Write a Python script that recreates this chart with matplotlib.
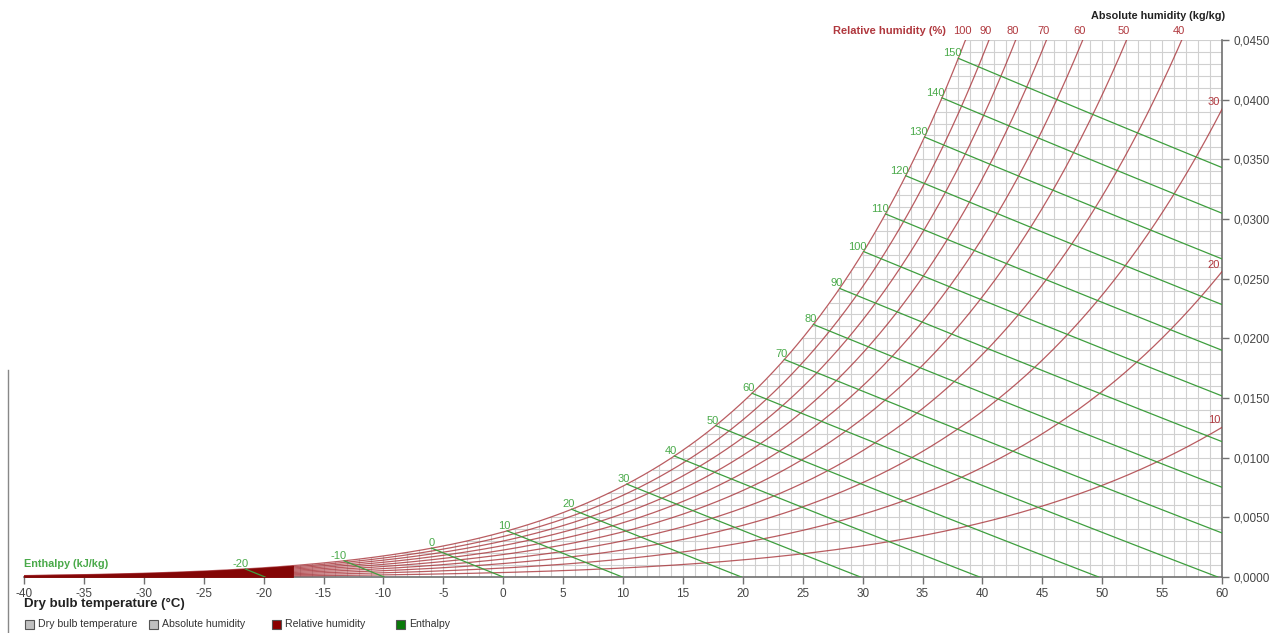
import numpy as np
import matplotlib.pyplot as plt
from matplotlib.lines import Line2D
from matplotlib.patches import Rectangle
from matplotlib.ticker import FuncFormatter

plt.rcParams['font.family'] = ['Liberation Sans', 'DejaVu Sans']
plt.rcParams['axes.unicode_minus'] = False

# chart values
rh_levels = [10, 20, 30, 40, 50, 60, 70, 80, 90, 100]
rh_top_labels = [100, 90, 80, 70, 60, 50, 40]
rh_side_labels = [30, 20, 10]
enthalpy_levels = [-20, -10, 0, 10, 20, 30, 40, 50, 60, 70, 80, 90, 100, 110, 120, 130, 140, 150]
x_ticks = list(range(-40, 61, 5))
y_ticks = [0.0, 0.005, 0.010, 0.015, 0.020, 0.025, 0.030, 0.035, 0.040, 0.045]
legend_items = [('Dry bulb temperature', '#c0c0c0'), ('Absolute humidity', '#c0c0c0'),
                ('Relative humidity', '#8b0000'), ('Enthalpy', '#0a7a0a')]

P = 101325.0
t_min, t_max = -40, 60
w_max = 0.045

RH_COL = '#a8343a'
H_COL = '#3e9e3e'
H_TXT = '#4aaa4a'
RH_TXT = '#b0383e'


def p_sat(t):
    return 610.94 * np.exp(17.625 * t / (t + 243.04))


def w_of(t, phi):
    ps = phi * p_sat(t)
    return 0.622 * ps / (P - ps)


T = np.linspace(t_min, t_max, 2001)
w_sat = w_of(T, 1.0)

fig = plt.figure(figsize=(12.75, 6.33), dpi=100)
ax = fig.add_axes([24 / 1275, 1 - 577 / 633, (1222 - 24) / 1275, (577 - 40) / 633])
ax.set_xlim(t_min, t_max)
ax.set_ylim(0, w_max)

# grid only under the saturation curve
for t in range(t_min, t_max + 1):
    top = min(w_of(t, 1.0), w_max)
    ax.plot([t, t], [0, top], color='#d0d0d0', lw=0.8, zorder=1)
for k in range(1, 46):
    w = k * 0.001
    t0 = np.interp(w, w_sat, T)
    ax.plot([t0, t_max], [w, w], color='#d0d0d0', lw=0.8, zorder=1)

# relative humidity curves
for phi in rh_levels:
    ax.plot(T, w_of(T, phi / 100), color=RH_COL, lw=0.9, alpha=0.8, zorder=3)

# dense band at the cold end
cold = T < -17.5
ax.fill_between(T[cold], 0, w_sat[cold], color='#840606', lw=0.6, zorder=3.5)

# enthalpy lines
h_sat = 1.006 * T + w_sat * (2501 + 1.86 * T)
for h in enthalpy_levels:
    t0 = np.interp(h, h_sat, T)
    t1 = min(h / 1.006, t_max)
    tt = np.linspace(t0, t1, 100)
    ww = (h - 1.006 * tt) / (2501 + 1.86 * tt)
    ax.plot(tt, ww, color=H_COL, lw=0.9, zorder=4)
    ax.annotate(str(h), (t0, w_of(t0, 1.0)), xytext=(3, 0), textcoords='offset pixels',
                ha='right', va='bottom', color=H_TXT, fontsize=8, zorder=6)

# RH labels along the top and right
for phi in rh_top_labels:
    tx = np.interp(w_max, w_of(T, phi / 100), T)
    ax.annotate(str(phi), (tx, w_max), xytext=(-3, 4), textcoords='offset pixels',
                ha='center', va='bottom', color=RH_TXT, fontsize=8, annotation_clip=False)
for phi in rh_side_labels:
    ax.annotate(str(phi), (t_max, w_of(t_max, phi / 100)), xytext=(-2, 7),
                textcoords='offset pixels', ha='right', va='center', color=RH_TXT, fontsize=8)

ax.annotate('Relative humidity (%)', (np.interp(w_max, w_sat, T), w_max), xytext=(-20, 4),
            textcoords='offset pixels', ha='right', va='bottom', color=RH_TXT,
            fontsize=8, fontweight='bold', annotation_clip=False)

# axes styling
for s in ['top', 'left']:
    ax.spines[s].set_visible(False)
ax.spines['bottom'].set_color('#707070')
ax.spines['right'].set_color('#707070')
ax.spines['bottom'].set_linewidth(1.2)
ax.spines['right'].set_linewidth(1.2)
ax.yaxis.tick_right()
ax.set_xticks(x_ticks)
ax.set_yticks(y_ticks)
ax.yaxis.set_major_formatter(FuncFormatter(lambda v, p: f'{v:.4f}'.replace('.', ',')))
ax.tick_params(colors='#707070', labelcolor='#444444', labelsize=8.5, length=5, width=1, pad=3)
ax.set_facecolor('none')

fig.text(24 / 1275, 1 - 604 / 633, 'Dry bulb temperature (°C)', fontsize=9.5, fontweight='bold',
         va='center', ha='left', color='#222222')
fig.text(1225 / 1275, 1 - 16 / 633, 'Absolute humidity (kg/kg)', fontsize=7.8, fontweight='bold',
         va='center', ha='right', color='#222222')
fig.text(24 / 1275, 1 - 564 / 633, 'Enthalpy (kJ/kg)', fontsize=7.8, fontweight='bold',
         va='center', ha='left', color=H_TXT)

# legend boxes
legend_x = [25, 149, 272, 396]
for (name, col), lx in zip(legend_items, legend_x):
    fig.patches.append(Rectangle((lx / 1275, 1 - 629 / 633), 9 / 1275, 9 / 633, facecolor=col,
                                 edgecolor='#555555', lw=0.8, transform=fig.transFigure))
    fig.text((lx + 13) / 1275, 1 - 624 / 633, name, fontsize=7.6, va='center', ha='left', color='#333333')

# thin line at the left edge
fig.add_artist(Line2D([8 / 1275, 8 / 1275], [0, 1 - 370 / 633], color='#888888', lw=1))

fig.savefig('out.png', dpi=100)
